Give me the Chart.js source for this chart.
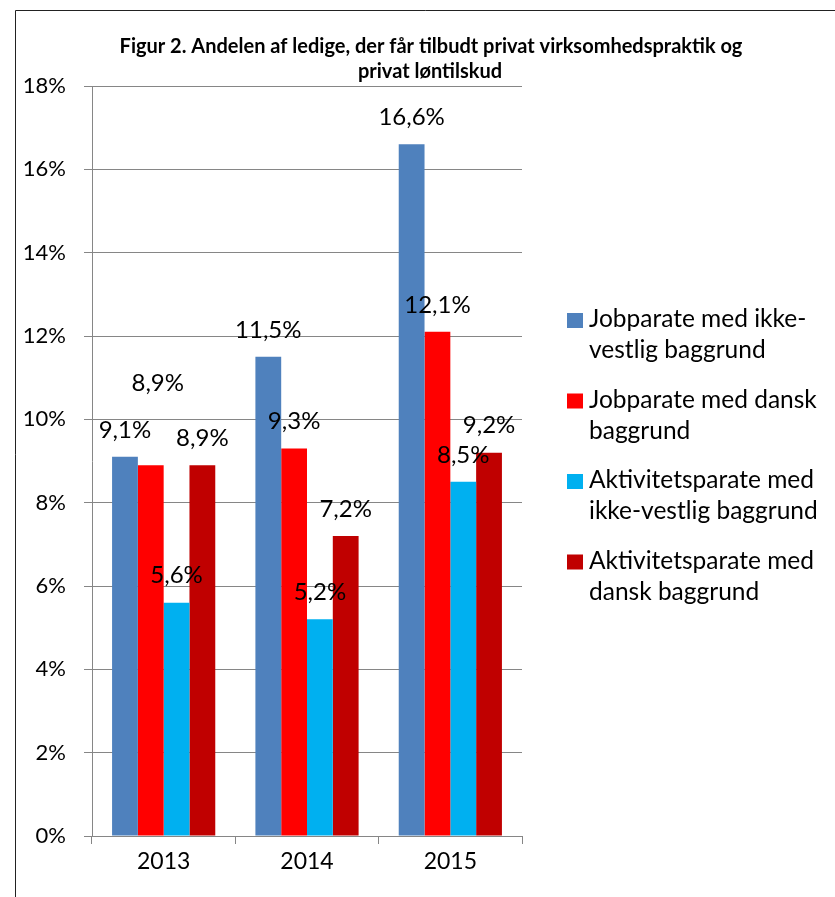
<!DOCTYPE html>
<html>
<head>
<meta charset="utf-8">
<script src="https://cdn.jsdelivr.net/npm/chart.js@4.4.1/dist/chart.umd.min.js"></script>
<style>
html,body{margin:0;padding:0;background:#fff;}
#wrap{position:relative;width:835px;height:897px;}
</style>
</head>
<body>
<div id="wrap"><canvas id="c" width="835" height="897"></canvas></div>
<script>
const titleLines = ["Figur 2. Andelen af ledige, der får tilbudt privat virksomhedspraktik og", "privat løntilskud"];
const categories = ["2013", "2014", "2015"];
const seriesNames = [
  "Jobparate med ikke-vestlig baggrund",
  "Jobparate med dansk baggrund",
  "Aktivitetsparate med ikke-vestlig baggrund",
  "Aktivitetsparate med dansk baggrund"
];
const jobIkkeVestlig = [9.1, 11.5, 16.6];
const jobDansk = [8.9, 9.3, 12.1];
const aktIkkeVestlig = [5.6, 5.2, 8.5];
const aktDansk = [8.9, 7.2, 9.2];
const yTicks = [0, 2, 4, 6, 8, 10, 12, 14, 16, 18];

const colors = ["#4F81BD", "#FF0000", "#00B0F0", "#C00000"];
const FONT = "Lato, 'Open Sans', sans-serif";

const frame = {
  id: 'frame',
  beforeDraw(chart) {
    const ctx = chart.ctx;
    ctx.save();
    ctx.strokeStyle = '#222';
    ctx.lineWidth = 1;
    ctx.beginPath();
    ctx.moveTo(15.5, 900);
    ctx.lineTo(15.5, 10.5);
    ctx.lineTo(840, 10.5);
    ctx.stroke();
    ctx.restore();
  }
};

const titlePlugin = {
  id: 'titleDraw',
  afterDraw(chart) {
    const ctx = chart.ctx;
    ctx.save();
    ctx.font = "bold 20px " + FONT;
    ctx.fillStyle = '#000';
    ctx.textAlign = 'center';
    ctx.textBaseline = 'middle';
    ctx.fillText(titleLines[0], 431, 47);
    ctx.fillText(titleLines[1], 430, 72);
    ctx.restore();
  }
};

const labelNudge = { "1-0": { dx: 7, dy: -55 } };
const dataLabels = {
  id: 'dataLabels',
  afterDatasetsDraw(chart) {
    const ctx = chart.ctx;
    ctx.save();
    ctx.font = "24px " + FONT;
    ctx.fillStyle = '#000';
    ctx.textAlign = 'center';
    ctx.textBaseline = 'middle';
    chart.data.datasets.forEach((ds, di) => {
      const meta = chart.getDatasetMeta(di);
      meta.data.forEach((bar, i) => {
        const n = labelNudge[di + '-' + i] || { dx: 0, dy: 0 };
        const txt = ds.data[i].toFixed(1).replace('.', ',') + '%';
        ctx.fillText(txt, bar.x + n.dx, bar.y - 27 + n.dy);
      });
    });
    ctx.restore();
  }
};

function wrapText(ctx, text, maxW) {
  const tokens = text.match(/[^\s-]+-?/g);
  const lines = [];
  let cur = '';
  tokens.forEach(tok => {
    const sep = cur === '' ? '' : (cur.endsWith('-') ? '' : ' ');
    const test = cur + sep + tok;
    if (ctx.measureText(test).width > maxW && cur !== '') {
      lines.push(cur);
      cur = tok;
    } else {
      cur = test;
    }
  });
  if (cur) lines.push(cur);
  return lines;
}

const legendPlugin = {
  id: 'sideLegend',
  afterDraw(chart) {
    const ctx = chart.ctx;
    ctx.save();
    ctx.font = "24.5px " + FONT;
    ctx.textAlign = 'left';
    ctx.textBaseline = 'alphabetic';
    chart.data.datasets.forEach((ds, i) => {
      const base = 327 + i * 80.5;
      ctx.fillStyle = ds.backgroundColor;
      ctx.fillRect(567, base - 14, 16, 15);
      ctx.fillStyle = '#000';
      const lines = wrapText(ctx, ds.label, 245);
      lines.forEach((ln, k) => ctx.fillText(ln, 589, base + k * 31));
    });
    ctx.restore();
  }
};

const seriesData = [jobIkkeVestlig, jobDansk, aktIkkeVestlig, aktDansk];

new Chart(document.getElementById('c'), {
  type: 'bar',
  data: {
    labels: categories,
    datasets: seriesNames.map((name, i) => ({
      label: name,
      data: seriesData[i],
      backgroundColor: colors[i],
      borderWidth: 0,
      categoryPercentage: 0.72,
      barPercentage: 1.0
    }))
  },
  options: {
    responsive: false,
    animation: false,
    devicePixelRatio: 1,
    layout: { padding: { top: 86, left: 15, right: 313, bottom: 0 } },
    plugins: {
      legend: { display: false },
      title: { display: false },
      tooltip: { enabled: false }
    },
    scales: {
      x: {
        afterFit(scale) { scale.height = 61; },
        grid: {
          offset: true,
          drawOnChartArea: false,
          drawTicks: true,
          tickLength: 8,
          color: '#868686'
        },
        border: { color: '#868686', width: 1 },
        ticks: {
          color: '#000',
          font: { family: FONT, size: 23 },
          padding: 4
        }
      },
      y: {
        min: 0,
        max: 18,
        afterFit(scale) { scale.width = 77; },
        afterBuildTicks(scale) { scale.ticks = yTicks.map(v => ({ value: v })); },
        grid: {
          color: '#868686',
          tickLength: 8,
          drawTicks: true
        },
        border: { color: '#868686', width: 1 },
        ticks: {
          color: '#000',
          font: { family: FONT, size: 22 },
          padding: 18,
          callback: v => v + '%'
        }
      }
    }
  },
  plugins: [frame, titlePlugin, dataLabels, legendPlugin]
});
</script>
</body>
</html>
